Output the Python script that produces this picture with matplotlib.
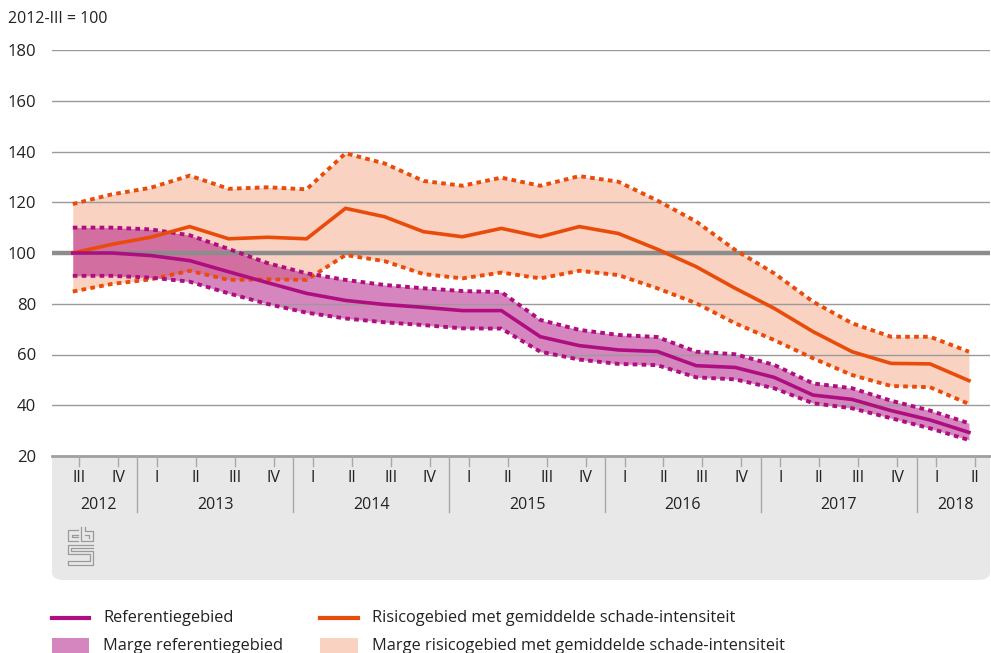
"""
Index of house prices (2012-III = 100): reference area vs. risk area,
each with its margin band.
"""

import matplotlib
matplotlib.use("Agg")
import matplotlib.pyplot as plt
from matplotlib.patches import Rectangle, FancyBboxPatch
from matplotlib.lines import Line2D

plt.rcParams['font.family'] = ['Open Sans', 'DejaVu Sans']

# Data
years = ["2012", "2013", "2014", "2015", "2016", "2017", "2018"]
quarters = ["III", "IV",
            "I", "II", "III", "IV",
            "I", "II", "III", "IV",
            "I", "II", "III", "IV",
            "I", "II", "III", "IV",
            "I", "II", "III", "IV",
            "I", "II"]
quarters_per_year = [2, 4, 4, 4, 4, 4, 2]

ref = [100.0, 100.0, 99.0, 97.0, 92.6, 88.3, 84.1, 81.3, 79.7, 78.6, 77.3, 77.3,
       67.0, 63.5, 61.8, 61.2, 55.6, 54.9, 51.0, 44.0, 42.3, 37.9, 34.2, 29.3]
ref_high = [110.0, 110.0, 109.3, 107.0, 101.6, 96.0, 92.0, 89.4, 87.4, 86.1, 85.0, 84.6,
            73.6, 69.7, 67.7, 66.9, 61.1, 60.1, 55.9, 48.6, 46.7, 41.8, 37.9, 32.9]
ref_low = [91.0, 91.0, 90.3, 88.7, 84.1, 79.9, 76.5, 74.2, 72.7, 71.6, 70.3, 70.2,
           61.1, 58.0, 56.3, 55.8, 51.0, 50.2, 46.7, 40.8, 38.8, 34.9, 30.9, 26.3]

risk = [100.0, 103.4, 106.2, 110.4, 105.6, 106.2, 105.6, 117.6, 114.3, 108.4, 106.4, 109.7,
        106.4, 110.4, 107.7, 101.5, 94.6, 86.1, 78.2, 69.0, 61.1, 56.5, 56.3, 49.7]
risk_high = [119.3, 123.1, 125.7, 130.5, 125.3, 125.9, 125.1, 139.3, 135.3, 128.4, 126.5, 129.7,
             126.5, 130.3, 128.1, 120.7, 112.4, 101.2, 92.0, 80.8, 72.3, 67.0, 67.0, 61.1]
risk_low = [84.8, 87.8, 89.6, 93.0, 89.4, 89.6, 89.4, 99.2, 96.8, 91.7, 90.0, 92.3,
            90.0, 93.0, 91.3, 86.1, 80.2, 72.3, 65.7, 58.5, 51.9, 47.6, 47.1, 40.5]

purple = "#AF0E80"
orange = "#E94C0A"
orange_fill = "#F9D2C1"
grid_grey = "#9A9A9A"
panel_grey = "#E8E8E8"
text_col = "#222222"

W, H = 991, 653


def fx(px):
    return px / W


def fy(py):
    return 1 - py / H


fig = plt.figure(figsize=(W / 100, H / 100), dpi=100)

# grey panel below the plot (holds the axis labels and the logo)
panel = FancyBboxPatch((fx(52), fy(580)), fx(990) - fx(52), fy(470) - fy(580),
                       boxstyle="round,pad=0,rounding_size=0.012",
                       transform=fig.transFigure, facecolor=panel_grey,
                       edgecolor="none", zorder=-2)
fig.patches.append(panel)
fig.patches.append(Rectangle((fx(52), fy(500)), fx(990) - fx(52), fy(456) - fy(500),
                             transform=fig.transFigure, facecolor=panel_grey,
                             edgecolor="none", zorder=-2))

ax = fig.add_axes([fx(52), fy(456), fx(990) - fx(52), fy(50) - fy(456)])
ax.set_facecolor("none")
for s in ax.spines.values():
    s.set_visible(False)

n = len(quarters)
xt = list(range(n))
# data points sit slightly left of the quarter ticks in the original
xd = [i - 0.16 for i in xt]

ax.set_xlim(-0.693, 23.38)
ax.set_ylim(20, 180)

# gridlines
for v in range(40, 181, 20):
    if v == 100:
        continue
    ax.axhline(v, color=grid_grey, lw=1.0, zorder=2)
ax.axhline(100, color="#8C8C8C", lw=3.2, zorder=2)
ax.axhline(20, color="#A0A0A0", lw=2.0, zorder=6, clip_on=False)

# margin bands
ax.fill_between(xd, risk_low, risk_high, color=orange_fill, lw=0, zorder=1)
ax.fill_between(xd, ref_low, ref_high, color=purple, alpha=0.5, lw=0, zorder=1.5)

dots = (0, (1.2, 1.1))
ax.plot(xd, risk_high, color=orange, lw=2.8, linestyle=dots, dash_capstyle="butt", zorder=3)
ax.plot(xd, risk_low, color=orange, lw=2.8, linestyle=dots, dash_capstyle="butt", zorder=3)
ax.plot(xd, risk, color=orange, lw=2.6, zorder=4, solid_joinstyle="miter")
ax.plot(xd, ref_high, color=purple, lw=2.8, linestyle=dots, dash_capstyle="butt", zorder=3.5)
ax.plot(xd, ref_low, color=purple, lw=2.8, linestyle=dots, dash_capstyle="butt", zorder=3.5)
ax.plot(xd, ref, color=purple, lw=2.6, zorder=4.5, solid_joinstyle="miter")

# y axis labels
ax.set_yticks(range(20, 181, 20))
ax.tick_params(axis="y", length=0, pad=11.5, labelsize=12, labelcolor=text_col)
ax.set_xticks([])
fig.text(fx(8), fy(19), "2012-III = 100", fontsize=11.5, color=text_col,
         va="center", ha="left")

# quarter ticks and labels, year labels and year separators
tr = ax.get_xaxis_transform()
for i, q in enumerate(quarters):
    ax.add_line(Line2D([i, i], [0, -10 / 406], transform=tr, color="#A8A8A8",
                       lw=1.0, clip_on=False, zorder=6))
    ax.text(i, -22 / 406, q, transform=tr, ha="center", va="center", fontsize=11.5,
            color=text_col, clip_on=False)

start = 0
for y, k in zip(years, quarters_per_year):
    mid = start + (k - 1) / 2
    ax.text(mid, -49 / 406, y, transform=tr, ha="center", va="center", fontsize=11.5,
            color=text_col, clip_on=False)
    if start > 0:
        ax.add_line(Line2D([start - 0.5, start - 0.5], [0, -56 / 406], transform=tr,
                           color="#A8A8A8", lw=1.0, clip_on=False, zorder=6))
    start += k

# small cbs logo
logo = [
    [(78, 530), (68, 530), (68, 541), (78, 541)],
    [(78, 535), (72, 535), (72, 537), (78, 537)],
    [(81, 527), (81, 541), (93, 541), (93, 531), (85, 531), (85, 527)],
    [(85, 535), (89, 535), (89, 538)],
    [(93, 545), (68, 545), (68, 554), (90, 554), (90, 561), (68, 561), (68, 565), (93, 565),
     (93, 551), (71, 551), (71, 548), (93, 548)],
]
for pts in logo:
    fig.add_artist(Line2D([fx(p[0]) for p in pts], [fy(p[1]) for p in pts],
                          transform=fig.transFigure, color="#9A9A9A", lw=0.9))

# legend
fig.add_artist(Line2D([fx(52), fx(89)], [fy(618), fy(618)], transform=fig.transFigure,
                      color=purple, lw=3.0))
fig.add_artist(Line2D([fx(320), fx(358)], [fy(618), fy(618)], transform=fig.transFigure,
                      color=orange, lw=3.0))
fig.patches.append(Rectangle((fx(52), fy(653)), fx(89) - fx(52), fy(638) - fy(653),
                             transform=fig.transFigure, facecolor=purple, alpha=0.5,
                             edgecolor="none"))
fig.patches.append(Rectangle((fx(320), fy(653)), fx(358) - fx(320), fy(638) - fy(653),
                             transform=fig.transFigure, facecolor=orange_fill,
                             edgecolor="none"))
fig.text(fx(103), fy(618), "Referentiegebied", fontsize=11.8, color=text_col, va="center")
fig.text(fx(372), fy(618), "Risicogebied met gemiddelde schade-intensiteit", fontsize=11.8,
         color=text_col, va="center")
fig.text(fx(103), fy(646), "Marge referentiegebied", fontsize=11.8, color=text_col, va="center")
fig.text(fx(372), fy(646), "Marge risicogebied met gemiddelde schade-intensiteit", fontsize=11.8,
         color=text_col, va="center")

fig.savefig("out.png", dpi=100)
